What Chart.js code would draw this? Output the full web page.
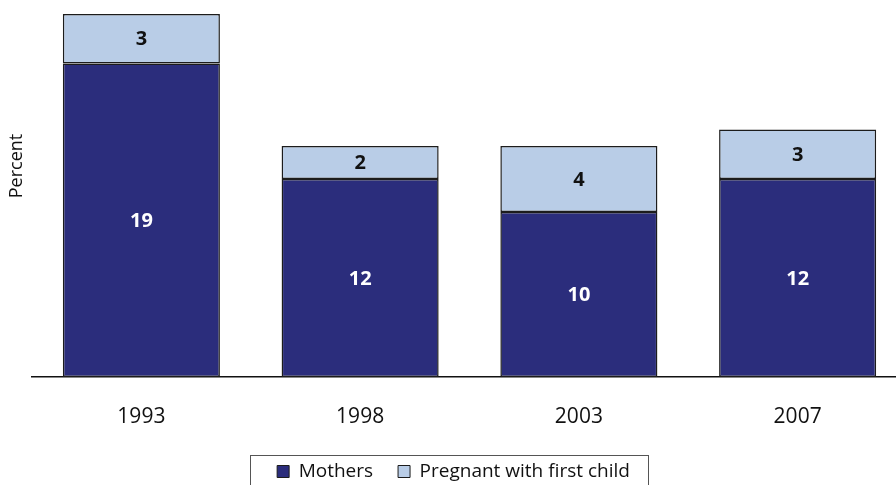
<!DOCTYPE html>
<html>
<head>
<meta charset="utf-8">
<script src="https://cdn.jsdelivr.net/npm/chart.js@4/dist/chart.umd.min.js"></script>
<style>
  html, body { margin: 0; padding: 0; background: #fff; overflow: hidden; }
  #wrap { width: 907px; height: 485px; }
</style>
</head>
<body>
<div id="wrap"><canvas id="chart"></canvas></div>
<script>
"use strict";

const years = ["1993", "1998", "2003", "2007"];
const mothers = [19, 12, 10, 12];
const pregnant = [3, 2, 4, 3];
const seriesNames = ["Mothers", "Pregnant with first child"];

const FONT = "'Open Sans', 'Noto Sans', sans-serif";
const NAVY = "#2b2d7c";
const LIGHT = "#b9cde7";
const EDGE = "#1c1c1c";

// numbers centred inside each stacked segment
const segmentLabels = {
  id: "segmentLabels",
  afterDatasetsDraw(chart) {
    const ctx = chart.ctx;
    ctx.save();
    ctx.font = "bold 20px " + FONT;
    ctx.textAlign = "center";
    ctx.textBaseline = "middle";
    chart.data.datasets.forEach((ds, i) => {
      ctx.fillStyle = i === 0 ? "#ffffff" : "#111111";
      chart.getDatasetMeta(i).data.forEach((bar, j) => {
        ctx.fillText(String(ds.data[j]), bar.x, (bar.y + bar.base) / 2 + 1);
      });
    });
    ctx.restore();
  },
};

// legend keeps wide item spacing but a short band at the bottom
const legendHeight = {
  id: "legendHeight",
  beforeLayout(chart) {
    const lg = chart.legend;
    if (!lg || lg._fixedHeight) return;
    const fit = lg.fit;
    lg.fit = function () { fit.call(this); this.height = 48; };
    lg._fixedHeight = true;
  },
};

// rotated "Percent" caption plus the frame round the legend
const extras = {
  id: "extras",
  afterDraw(chart) {
    const ctx = chart.ctx;
    ctx.save();
    ctx.translate(17, 166);
    ctx.rotate(-Math.PI / 2);
    ctx.font = "18px " + FONT;
    ctx.fillStyle = "#111";
    ctx.textAlign = "center";
    ctx.textBaseline = "middle";
    ctx.fillText("Percent", 0, 0);
    ctx.restore();

    const boxes = chart.legend.legendHitBoxes;
    if (!boxes || !boxes.length) return;
    const first = boxes[0], last = boxes[boxes.length - 1];
    const x0 = Math.round(first.left - 27) + 0.5;
    const x1 = Math.round(last.left + last.width + 18) + 0.5;
    ctx.save();
    ctx.strokeStyle = "#555";
    ctx.lineWidth = 1;
    ctx.strokeRect(x0, 455.5, x1 - x0, 60);
    ctx.restore();
  },
};

new Chart(document.getElementById("chart"), {
  type: "bar",
  data: {
    labels: years,
    datasets: [
      { label: seriesNames[0], data: mothers, backgroundColor: NAVY,
        borderColor: EDGE, borderWidth: 1.5, borderSkipped: false },
      { label: seriesNames[1], data: pregnant, backgroundColor: LIGHT,
        borderColor: EDGE, borderWidth: 1.5, borderSkipped: false },
    ],
  },
  options: {
    responsive: true,
    maintainAspectRatio: false,
    animation: false,
    layout: { padding: { top: 14, left: 0, right: 0, bottom: 0 } },
    datasets: { bar: { barPercentage: 0.718, categoryPercentage: 1 } },
    plugins: {
      tooltip: { enabled: false },
      legend: {
        position: "bottom",
        labels: {
          color: "#111",
          font: { family: FONT, size: 19 },
          boxWidth: 12,
          boxHeight: 12,
          padding: 25,
          generateLabels(chart) {
            return chart.data.datasets.map((ds, i) => ({
              text: ds.label, fillStyle: ds.backgroundColor, strokeStyle: EDGE,
              lineWidth: 1, datasetIndex: i, hidden: false, fontColor: "#111",
            }));
          },
        },
      },
    },
    scales: {
      x: {
        stacked: true,
        grid: { display: false, drawTicks: false },
        border: { display: true, color: "#111", width: 1.5 },
        ticks: { color: "#111", font: { family: FONT, size: 21 }, padding: 27 },
        afterFit(scale) { scale.height = 60; },
      },
      y: {
        stacked: true,
        min: 0,
        max: 22,
        grid: { display: false, drawTicks: false },
        border: { display: false },
        ticks: { display: false },
        afterFit(scale) { scale.width = 32; },
      },
    },
  },
  plugins: [segmentLabels, legendHeight, extras],
});
</script>
</body>
</html>
